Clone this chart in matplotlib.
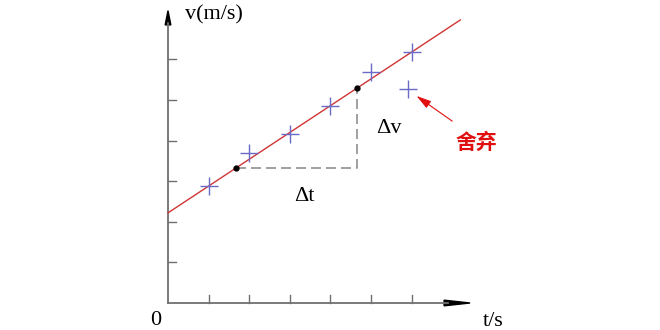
import numpy as np
import matplotlib.pyplot as plt

plt.rcParams['font.family'] = ['Liberation Serif', 'DejaVu Serif']

# measured points (t, v) in tick units
t_pts = [1.0, 2.0, 3.0, 4.0, 5.0, 6.0]
v_pts = [2.88, 3.69, 4.16, 4.85, 5.69, 6.18]
t_bad, v_bad = 5.9, 5.27  # discarded point

# fitted line
intercept = 2.22
slope = 0.66
t_line = [0.0, 7.2]

# points used for slope
t_a, t_b = 1.67, 4.66

x_ticks = [1, 2, 3, 4, 5, 6]
y_ticks = [1, 2, 3, 4, 5, 6]

axis_col = '#707070'

fig = plt.figure(figsize=(6.6, 3.3), dpi=100)
ax = fig.add_axes([0, 0, 1, 1])
unit = 40.6
ax.set_xlim(-168 / unit, (660 - 168) / unit)
ax.set_ylim(-(330 - 303) / unit, 303 / unit)
ax.axis('off')

# axes
ax.plot([0, 6.9], [0, 0], color=axis_col, lw=1.3)
ax.plot([0, 0], [0, 6.9], color=axis_col, lw=1.3)
ax.fill([6.8, 7.44, 6.8], [0.07, 0, -0.07], color='black')
ax.fill([-0.07, 0, 0.07], [6.85, 7.2, 6.85], color='black')
for xt in x_ticks:
    ax.plot([xt, xt], [0, 0.19], color=axis_col, lw=1)
for yt in y_ticks:
    ax.plot([0, 0.19], [yt, yt], color=axis_col, lw=1)

# fitted line
v_line = [intercept + slope * t for t in t_line]
ax.plot(t_line, v_line, color='#d03535', lw=1)

# data
ax.plot(t_pts, v_pts, '+', color='#6a6ac8', ms=13, mew=1)
ax.plot([t_bad], [v_bad], '+', color='#6a6ac8', ms=13, mew=1)

# slope triangle
v_a = intercept + slope * t_a
v_b = intercept + slope * t_b
ax.plot([t_a, t_b, t_b], [v_a, v_a, v_b], color='#909090', lw=1.2,
        ls=(0, (6, 3)))
ax.plot([t_a, t_b], [v_a, v_b], 'o', color='black', ms=3.5)

# labels
ax.text(0.42, 7.1, 'v(m/s)', fontsize=16, ha='left', va='center')
ax.text(8.0, -0.45, 't/s', fontsize=16, ha='center', va='center')
ax.text(-0.3, -0.42, '0', fontsize=16, ha='center', va='center')
ax.text(3.35, 2.62, 'Δt', fontsize=16, ha='center', va='center')
ax.text(5.45, 4.3, 'Δv', fontsize=16, ha='center', va='center')
ax.text(7.6, 3.95, '舍弃', fontsize=15, color='#e01010', fontweight='bold',
        ha='center', va='center', family=['Noto Sans CJK SC', 'DejaVu Sans'])
ax.annotate('', xy=(6.12, 5.1), xytext=(7.0, 4.48),
            arrowprops=dict(arrowstyle='-|>,head_length=0.9,head_width=0.25',
                            color='#e01010', lw=0.8, shrinkA=0, shrinkB=0))

fig.savefig('out.png', dpi=100)
